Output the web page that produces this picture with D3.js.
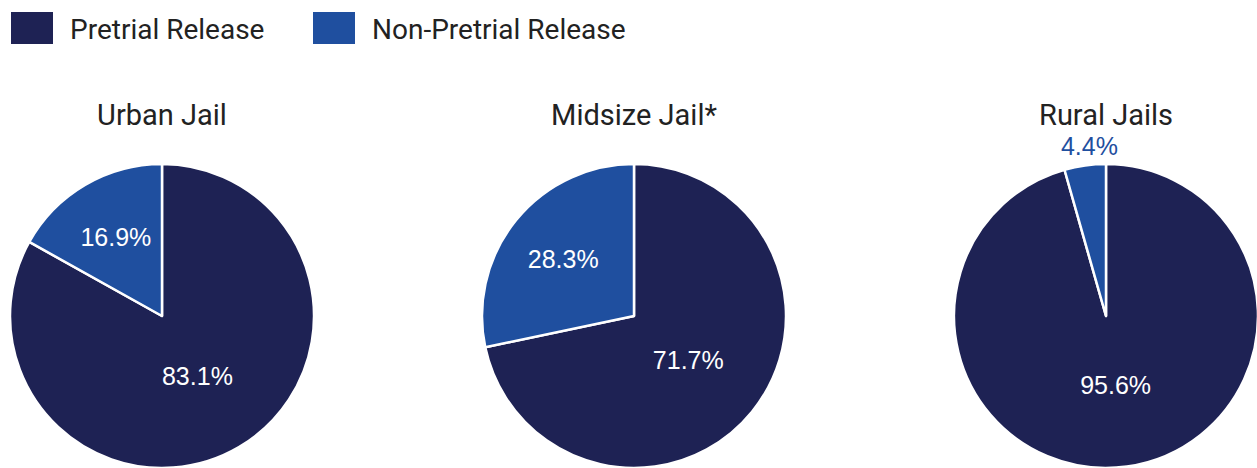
<!DOCTYPE html>
<html>
<head>
<meta charset="utf-8">
<script src="https://cdn.jsdelivr.net/npm/d3@7"></script>
<style>
  html, body { margin: 0; padding: 0; background: #ffffff; }
  svg { display: block; }
</style>
</head>
<body>
<svg id="chart" width="1257" height="468"></svg>
<script>
// Release type shares (%) by jail size
const jails = ["Urban Jail", "Midsize Jail*", "Rural Jails"];
const seriesNames = ["Pretrial Release", "Non-Pretrial Release"];
const pretrial = [83.1, 71.7, 95.6];
const nonPretrial = [16.9, 28.3, 4.4];

const colors = d3.scaleOrdinal()
  .domain(seriesNames)
  .range(["#1e2254", "#1f4f9f"]);

const svg = d3.select("#chart");
const radius = 152;
const cy = 316;

const cx = d3.scalePoint().domain(jails).range([162, 1106]);

// Legend
const legend = svg.append("g");
const legendX = [11, 313];
seriesNames.forEach((name, i) => {
  const g = legend.append("g").attr("transform", `translate(${legendX[i]},12)`);
  g.append("rect").attr("width", 42).attr("height", 32).attr("fill", colors(name));
  g.append("text")
    .attr("x", 59).attr("y", 27)
    .attr("font-family", "Roboto, 'Liberation Sans', sans-serif")
    .attr("font-size", 28)
    .attr("fill", "#222")
    .text(name);
});

const pie = d3.pie().sort(null).value(d => d.value);
const arc = d3.arc().innerRadius(0).outerRadius(radius);

jails.forEach((jail, j) => {
  const data = [
    { key: seriesNames[0], value: pretrial[j] },
    { key: seriesNames[1], value: nonPretrial[j] }
  ];
  const g = svg.append("g").attr("transform", `translate(${cx(jail)},${cy})`);

  // Pie title
  g.append("text")
    .attr("x", 0).attr("y", 125 - cy)
    .attr("text-anchor", "middle")
    .attr("font-family", "Roboto, 'Liberation Sans', sans-serif")
    .attr("font-size", 29)
    .attr("fill", "#222")
    .text(jail);

  const arcs = pie(data);
  g.selectAll("path.slice")
    .data(arcs)
    .join("path")
    .attr("class", "slice")
    .attr("d", arc)
    .attr("fill", d => colors(d.data.key))
    .attr("stroke", "#ffffff")
    .attr("stroke-width", 2.5)
    .attr("stroke-linejoin", "round");

  // Value labels: inside the slice, or just outside for thin slices
  arcs.forEach((a, i) => {
    const share = a.data.value;
    const mid = (a.startAngle + a.endAngle) / 2;
    let rr, fill;
    if (share < 6) { rr = radius + 20; fill = colors(a.data.key); }
    else if (i === 0) { rr = radius * 0.46; fill = "#ffffff"; }
    else { rr = radius * 0.6; fill = "#ffffff"; }
    const x = Math.sin(mid) * rr * (share < 6 ? 0.7 : 1);
    const y = -Math.cos(mid) * rr;
    g.append("text")
      .attr("x", x).attr("y", y)
      .attr("dy", "0.36em")
      .attr("text-anchor", "middle")
      .attr("font-family", "'Liberation Sans', Arial, sans-serif")
      .attr("font-size", 25)
      .attr("fill", fill)
      .text(d3.format(".1f")(share) + "%");
  });
});
</script>
</body>
</html>
